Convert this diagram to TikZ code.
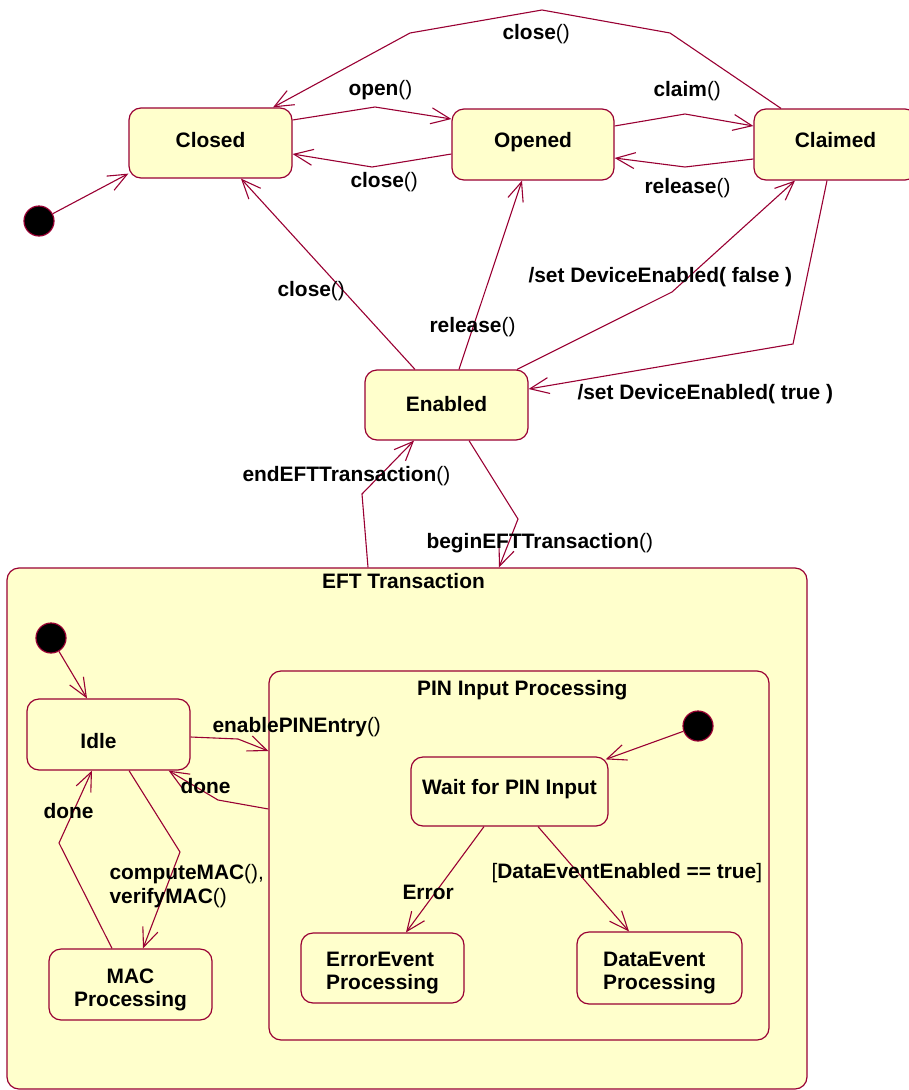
\documentclass[tikz,border=0pt]{standalone}
\usepackage{fontspec}
\setmainfont{Liberation Sans}
\usetikzlibrary{arrows.meta,calc}
\definecolor{rosefill}{HTML}{FFFFCC}
\definecolor{roseline}{HTML}{990033}
\newcommand{\dropdown}[1]{\rule[-#1]{0pt}{0pt}}
\newcommand{\pushdown}[1]{\rule{0pt}{#1}}
\begin{document}
\begin{tikzpicture}[x=1pt,y=-1pt,
  stbox/.style={draw=roseline, fill=rosefill, line width=1.2pt, rounded corners=12pt,
    inner sep=0pt, font=\fontsize{20.9}{23}\selectfont\bfseries},
  initst/.style={circle, draw=roseline, fill=black, line width=1.2pt, minimum size=30pt, inner sep=0pt},
  trans/.style={draw=roseline, line width=1.1pt, -{Straight Barb[length=19pt,width=16pt]}},
  lbl/.style={anchor=base west, inner sep=0pt, font=\fontsize{20.9}{23}\selectfont},
  blbl/.style={lbl, font=\fontsize{20.9}{23}\selectfont\bfseries},
]
\useasboundingbox (0,0) rectangle (909,1090);

% containers
\node[stbox, minimum width=800pt, minimum height=521pt] (eft) at (407,828.5) {};
\node[blbl] (eftt) at (322,588) {EFT Transaction};
\node[stbox, minimum width=500pt, minimum height=369pt] (pin) at (519,855.5) {};
\node[blbl] (pint) at (417,695) {PIN Input Processing};

% top states
\node[stbox, minimum width=163pt, minimum height=70pt] (closed) at (210.5,143) {Closed\dropdown{7pt}};
\node[stbox, minimum width=162pt, minimum height=71pt] (opened) at (533,144.5) {Opened\dropdown{9.4pt}};
\node[stbox, minimum width=163pt, minimum height=71pt] (claimed) at (835.5,144.5) {Claimed\dropdown{10pt}};
\node[initst] (init1) at (39,221) {};
\node[stbox, minimum width=163pt, minimum height=70pt] (enabled) at (446.5,405) {Enabled\dropdown{3pt}};

% inner states
\node[initst] (init2) at (51,638) {};
\node[stbox, minimum width=163pt, minimum height=71pt] (idle) at (108.5,734.5)
  {\raisebox{-13.5pt}[0pt][0pt]{\hspace*{-20pt}Idle}};
\node[stbox, minimum width=163pt, minimum height=71pt, align=center] (mac) at (130.5,984.5) {\pushdown{25pt}MAC\\Processing};
\node[initst] (init3) at (698,726) {};
\node[stbox, minimum width=197pt, minimum height=69pt] (wait) at (509.5,791.5) {Wait for PIN Input\dropdown{10pt}};
\node[stbox, minimum width=163pt, minimum height=70pt, align=left] (errev) at (382.5,968) {\pushdown{24pt}ErrorEvent\\Processing};
\node[stbox, minimum width=165pt, minimum height=72pt, align=left] (dataev) at (659.5,968) {\pushdown{24pt}DataEvent\\Processing};

% transitions, top
\draw[trans] (init1) -- ($(closed.south west)+(0,-5)$);
\draw[trans] ($(closed.east)+(0,-23)$) -- (375,107) -- ($(opened.west)+(0,-25.5)$)
  node[lbl] (lopen) at (348,95) {\textbf{open}()};
\draw[trans] ($(opened.west)+(0,9.5)$) -- (372,167) -- ($(closed.east)+(0,11)$)
  node[lbl] (lclose1) at (350,187) {\textbf{close}()};
\draw[trans] ($(opened.east)+(0,-18.5)$) -- (685,114) -- ($(claimed.west)+(0,-18.5)$)
  node[lbl] (lclaim) at (653,96) {\textbf{claim}()};
\draw[trans] ($(claimed.west)+(0,14.5)$) -- (685,167) -- ($(opened.east)+(0,13.5)$)
  node[lbl] (lrel1) at (644,193) {\textbf{release}()};
\draw[trans] ($(claimed.north)+(-54.5,0)$) -- (670,33) -- (542,10) -- (410,33) -- ($(closed.north)+(62.5,0)$)
  node[lbl] (lclose2) at (502,39) {\textbf{close}()};
\draw[trans] ($(enabled.north)+(-31.5,0)$) -- ($(closed.south)+(30.5,0)$)
  node[lbl] (lclose3) at (277,296) {\textbf{close}()};
\draw[trans] ($(enabled.north)+(12.5,0)$) -- ($(opened.south)+(-11,0)$)
  node[lbl] (lrel2) at (429,332) {\textbf{release}()};
\draw[trans] ($(enabled.north)+(70.5,0)$) -- (672,292) -- ($(claimed.south)+(-40.5,0)$)
  node[blbl] (lfalse) at (528,282) {/set DeviceEnabled( false )};
\draw[trans] ($(claimed.south)+(-8.5,0)$) -- (793,344) -- ($(enabled.east)+(0,-16)$)
  node[blbl] (ltrue) at (577,399) {/set DeviceEnabled( true )};
\draw[trans] ($(enabled.south)+(22.5,0)$) -- (518,519) -- ($(eft.north)+(92,0)$)
  node[lbl] (lbegin) at (426,548) {\textbf{beginEFTTransaction}()};
\draw[trans] ($(eft.north)+(-39,0)$) -- (362,494) -- ($(enabled.south)+(-32.5,0)$)
  node[lbl] (lend) at (242,481) {\textbf{endEFTTransaction}()};

% transitions, inside
\draw[trans] (init2) -- ($(idle.north)+(-21.5,0)$);
\draw[trans] ($(idle.east)+(0,2.5)$) -- (238,739) -- ($(pin.west)+(0,-104.5)$)
  node[lbl] (lenable) at (212,732) {\textbf{enablePINEntry}()};
\draw[trans] ($(pin.west)+(0,-46.5)$) -- (218,800) -- ($(idle.south east)+(-22,0)$)
  node[blbl] (ldone1) at (180,793) {done};
\draw[trans] ($(mac.north)+(-18.5,0)$) -- (59,843) -- ($(idle.south)+(-16.5,0)$)
  node[blbl] (ldone2) at (43,818) {done};
\draw[trans] ($(idle.south)+(20.5,0)$) -- (180,852) -- ($(mac.north)+(12.5,0)$)
  node[lbl] (lcomp) at (109,879) {\textbf{computeMAC}(),}
  node[lbl] (lverify) at (109,903) {\textbf{verifyMAC}()};
\draw[trans] (init3) -- ($(wait.north east)+(-3,3)$);
\draw[trans] ($(wait.south)+(-25.5,0)$) -- ($(errev.north)+(23.5,0)$)
  node[blbl] (lerror) at (402,899) {Error};
\draw[trans] ($(wait.south)+(28.5,0)$) -- ($(dataev.north)+(-30.5,0)$)
  node[lbl] (lguard) at (491,878) {[\textbf{DataEventEnabled == true}]};
\end{tikzpicture}
\end{document}
